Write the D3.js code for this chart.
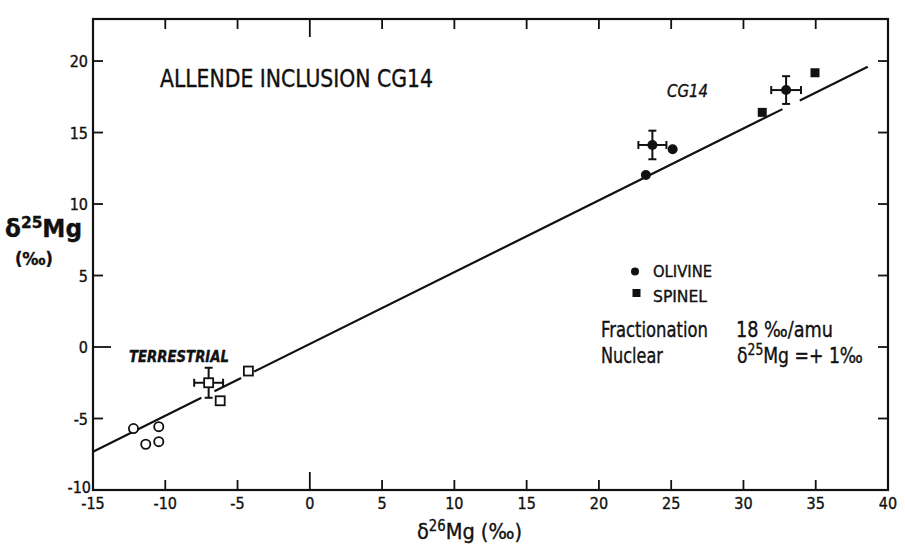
<!DOCTYPE html>
<html>
<head>
<meta charset="utf-8">
<script src="https://cdn.jsdelivr.net/npm/d3@7"></script>
<style>
  body { margin: 0; background: #fff; }
  svg text { font-family: "DejaVu Sans Condensed", "DejaVu Sans", sans-serif; font-stretch: condensed; fill: #111; stroke: #111; stroke-width: 0.35px; }
</style>
</head>
<body>
<svg id="chart" width="905" height="544"></svg>
<script>
// values (per mil)
var xTicks = [-15, -10, -5, 0, 5, 10, 15, 20, 25, 30, 35, 40]
var yTicks = [-10, -5, 0, 5, 10, 15, 20]

var terrestrialPts = [[-12.2, -5.7], [-11.35, -6.8], [-10.45, -5.57], [-10.45, -6.62]]
var terrestrialSq  = [[-4.25, -1.68], [-6.2, -3.76]]
var terrestrialMean = {x: -7.0, y: -2.5, ex: 1.0, ey: 1.05}

var olivinePts = [[23.25, 12.03], [25.1, 13.83]]
var olivineMean = {x: 23.7, y: 14.13, ex: 0.97, ey: 1.0}
var spinelPts = [[31.3, 16.41], [34.95, 19.18]]
var spinelMean = {x: 32.95, y: 17.97, ex: 1.03, ey: 0.97}

var fitLine = [[-15, -7.32], [38.6, 19.6]]
var lineBreaks = [[-7.5, -6.6], [-4.75, -3.85], [32.7, 33.9]]

var svg = d3.select('#chart')
var pLeft = 93, pRight = 888, pTop = 19, pBottom = 490

var x = d3.scaleLinear().domain([-15, 40]).range([pLeft, pRight])
var y = d3.scaleLinear().domain([-10, 22.94]).range([pBottom, pTop])

// frame
svg.append('rect')
  .attr('x', pLeft).attr('y', pTop)
  .attr('width', pRight - pLeft).attr('height', pBottom - pTop)
  .style('fill', 'none').style('stroke', '#111').style('stroke-width', 2.2)

// inward ticks on all four sides, the zero tick drawn longer
function tickLen(v){ return v == 0 ? 18 : 10 }
var xt = xTicks.filter(function(v){ return v > -15 && v < 40 })
var yt = yTicks.filter(function(v){ return v > -10 })

var ticks = svg.append('g').style('stroke', '#111').style('stroke-width', 1.8)
xt.forEach(function(v){
  ticks.append('line').attr('x1', x(v)).attr('x2', x(v)).attr('y1', pBottom).attr('y2', pBottom - tickLen(v))
  ticks.append('line').attr('x1', x(v)).attr('x2', x(v)).attr('y1', pTop).attr('y2', pTop + tickLen(v))
})
yt.forEach(function(v){
  ticks.append('line').attr('x1', pLeft).attr('x2', pLeft + tickLen(v)).attr('y1', y(v)).attr('y2', y(v))
  ticks.append('line').attr('x1', pRight).attr('x2', pRight - 10).attr('y1', y(v)).attr('y2', y(v))
})

// tick labels
svg.selectAll('.xlab').data(xTicks).enter().append('text')
  .attr('class', 'xlab')
  .attr('x', function(d){ return x(d) })
  .attr('y', 509)
  .attr('text-anchor', 'middle')
  .style('font-size', '16px')
  .text(function(d){ return d < 0 ? '-' + (-d) : d })

svg.selectAll('.ylab').data(yTicks).enter().append('text')
  .attr('class', 'ylab')
  .attr('x', function(d){ return d == -10 ? 91 : 88 })
  .attr('y', function(d){ return d == -10 ? y(d) + 3 : y(d) + 6 })
  .attr('text-anchor', 'end')
  .style('font-size', '16px')
  .text(function(d){ return d < 0 ? '-' + (-d) : d })

// fitted line, broken in a few places as in the drawing
var segs = []
var start = fitLine[0][0]
lineBreaks.forEach(function(b){ segs.push([start, b[0]]); start = b[1] })
segs.push([start, fitLine[1][0]])
var slope = (fitLine[1][1] - fitLine[0][1]) / (fitLine[1][0] - fitLine[0][0])
function fy(v){ return fitLine[0][1] + slope * (v - fitLine[0][0]) }
svg.selectAll('.fit').data(segs).enter().append('line')
  .attr('class', 'fit')
  .attr('x1', function(d){ return x(d[0]) }).attr('y1', function(d){ return y(fy(d[0])) })
  .attr('x2', function(d){ return x(d[1]) }).attr('y2', function(d){ return y(fy(d[1])) })
  .style('stroke', '#111').style('stroke-width', 2.2)

// error bars
function errBar(m){
  var g = svg.append('g').style('stroke', '#111').style('stroke-width', 2)
  var cx = x(m.x), cy = y(m.y)
  var x0 = x(m.x - m.ex), x1 = x(m.x + m.ex)
  var y0 = y(m.y - m.ey), y1 = y(m.y + m.ey)
  g.append('line').attr('x1', x0).attr('x2', x1).attr('y1', cy).attr('y2', cy)
  g.append('line').attr('x1', cx).attr('x2', cx).attr('y1', y0).attr('y2', y1)
  g.append('line').attr('x1', x0).attr('x2', x0).attr('y1', cy - 4).attr('y2', cy + 4)
  g.append('line').attr('x1', x1).attr('x2', x1).attr('y1', cy - 4).attr('y2', cy + 4)
  g.append('line').attr('x1', cx - 4).attr('x2', cx + 4).attr('y1', y0).attr('y2', y0)
  g.append('line').attr('x1', cx - 4).attr('x2', cx + 4).attr('y1', y1).attr('y2', y1)
}
errBar(terrestrialMean)
errBar(olivineMean)
errBar(spinelMean)

// open circles and squares (terrestrial)
svg.selectAll('.tc').data(terrestrialPts).enter().append('circle')
  .attr('cx', function(d){ return x(d[0]) }).attr('cy', function(d){ return y(d[1]) })
  .attr('r', 4.6)
  .style('fill', '#fff').style('stroke', '#111').style('stroke-width', 1.8)
svg.selectAll('.ts').data(terrestrialSq.concat([[terrestrialMean.x, terrestrialMean.y]])).enter().append('rect')
  .attr('x', function(d){ return x(d[0]) - 4.5 }).attr('y', function(d){ return y(d[1]) - 4.5 })
  .attr('width', 9).attr('height', 9)
  .style('fill', '#fff').style('stroke', '#111').style('stroke-width', 1.8)

// olivine (filled circles), spinel (filled squares)
svg.selectAll('.ol').data(olivinePts.concat([[olivineMean.x, olivineMean.y], [spinelMean.x, spinelMean.y]])).enter().append('circle')
  .attr('cx', function(d){ return x(d[0]) }).attr('cy', function(d){ return y(d[1]) })
  .attr('r', 5)
  .style('fill', '#111')
svg.selectAll('.sp').data(spinelPts).enter().append('rect')
  .attr('x', function(d){ return x(d[0]) - 4.5 }).attr('y', function(d){ return y(d[1]) - 4.5 })
  .attr('width', 9).attr('height', 9)
  .style('fill', '#111')

// annotations
function label(txt, px, py, size, len, opts){
  var t = svg.append('text').attr('x', px).attr('y', py).style('font-size', size + 'px')
  if(len) t.attr('textLength', len).attr('lengthAdjust', 'spacingAndGlyphs')
  if(opts && opts.italic) t.style('font-style', 'italic')
  if(opts && opts.bold) t.style('font-weight', 'bold')
  t.text(txt)
  return t
}
label('ALLENDE  INCLUSION  CG14', 160, 87, 24, 273)
label('CG14', 667, 97, 18, 41, {italic: true})
label('TERRESTRIAL', 129, 362, 15, 100, {italic: true, bold: true})

svg.append('circle').attr('cx', 635).attr('cy', 271.5).attr('r', 4).style('fill', '#111')
label('OLIVINE', 653, 277, 16, 59)
svg.append('rect').attr('x', 632.5).attr('y', 289).attr('width', 8).attr('height', 8).style('fill', '#111')
label('SPINEL', 653, 302, 16, 54)

label('Fractionation', 601, 337, 22, 107)
label('18 \u2030/amu', 736, 337, 22, 97)
label('Nuclear', 601, 363, 22, 62)
var nuc = svg.append('text').attr('x', 737).attr('y', 363).style('font-size', '21px')
  .attr('textLength', 126).attr('lengthAdjust', 'spacingAndGlyphs')
nuc.append('tspan').text('\u03b4')
nuc.append('tspan').attr('dy', -8).style('font-size', '15px').text('25')
nuc.append('tspan').attr('dy', 8).text('Mg =+ 1\u2030')

// axis titles
var yl = svg.append('text').attr('x', 5).attr('y', 237).style('font-size', '24px').style('font-weight', 'bold')
  .attr('textLength', 77).attr('lengthAdjust', 'spacingAndGlyphs')
yl.append('tspan').text('\u03b4')
yl.append('tspan').attr('dy', -9).style('font-size', '16px').text('25')
yl.append('tspan').attr('dy', 9).text('Mg')
label('(\u2030)', 15, 265, 18, 38, {bold: true})

var xl = svg.append('text').attr('x', 417).attr('y', 539).style('font-size', '22px')
  .attr('textLength', 105).attr('lengthAdjust', 'spacingAndGlyphs')
xl.append('tspan').text('\u03b4')
xl.append('tspan').attr('dy', -8).style('font-size', '15px').text('26')
xl.append('tspan').attr('dy', 8).text('Mg (\u2030)')
</script>
</body>
</html>
